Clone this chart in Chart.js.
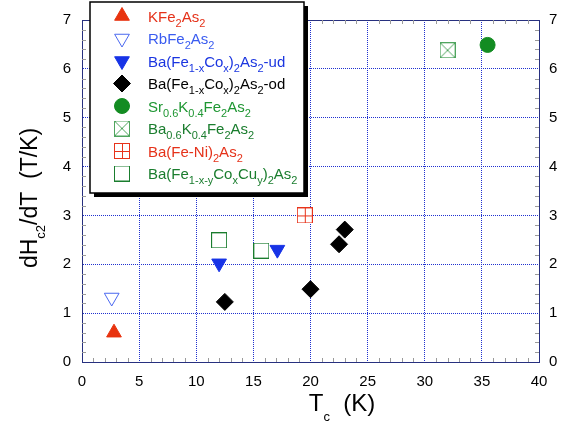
<!DOCTYPE html>
<html><head><meta charset="utf-8">
<script src="https://cdn.jsdelivr.net/npm/chart.js@4/dist/chart.umd.min.js"></script>
<style>html,body{margin:0;padding:0;background:#fff}canvas{display:block}</style>
</head><body>
<canvas id="c" width="572" height="426"></canvas>
<script>
// ---- data ----
const xTickValues = [0, 5, 10, 15, 20, 25, 30, 35, 40];
const yTickValues = [0, 1, 2, 3, 4, 5, 6, 7];

const kfeTc = [2.8];                     const kfeSlope = [0.60];
const rbfeTc = [2.6];                    const rbfeSlope = [1.32];
const coUdTc = [12.0, 17.1];             const coUdSlope = [2.02, 2.30];
const coOdTc = [12.5, 20.0, 22.5, 23.0]; const coOdSlope = [1.23, 1.49, 2.41, 2.71];
const srkTc = [35.5];                    const srkSlope = [6.49];
const bakTc = [32.0];                    const bakSlope = [6.38];
const niTc = [19.5];                     const niSlope = [3.00];
const cuTc = [12.0, 15.7];               const cuSlope = [2.49, 2.28];

// legend labels: [text, isSubscript]
const legendLabels = [
  [['KFe',0],['2',1],['As',0],['2',1]],
  [['RbFe',0],['2',1],['As',0],['2',1]],
  [['Ba(Fe',0],['1-x',1],['Co',0],['x',1],[')',0],['2',1],['As',0],['2',1],['-ud',0]],
  [['Ba(Fe',0],['1-x',1],['Co',0],['x',1],[')',0],['2',1],['As',0],['2',1],['-od',0]],
  [['Sr',0],['0.6',1],['K',0],['0.4',1],['Fe',0],['2',1],['As',0],['2',1]],
  [['Ba',0],['0.6',1],['K',0],['0.4',1],['Fe',0],['2',1],['As',0],['2',1]],
  [['Ba(Fe-Ni)',0],['2',1],['As',0],['2',1]],
  [['Ba(Fe',0],['1-x-y',1],['Co',0],['x',1],['Cu',0],['y',1],[')',0],['2',1],['As',0],['2',1]]
];
const legendColors = ['#e5321a','#3a5cf0','#1a35e0','#000000','#1e9632','#1a7d2e','#e5321a','#1a7d2e'];
const yTitle = [['dH',0],['c2',1],['/dT  (T/K)',0]];
const xTitle = [['T',0],['c',1],['  (K)',0]];

// ---- styles ----
const FONT = '"Liberation Sans", Arial, Helvetica, sans-serif';
const RED = '#e8330f', BLUE = '#1733e6', LBLUE = '#4a68f0', GREEN = '#138c22';

function boxMarker(size, stroke, kind) {
  const c = document.createElement('canvas');
  c.width = c.height = size;
  const g = c.getContext('2d');
  g.fillStyle = '#fff'; g.fillRect(0, 0, size, size);
  g.strokeStyle = stroke; g.lineWidth = 1;
  g.strokeRect(0.5, 0.5, size - 1, size - 1);
  g.beginPath();
  if (kind === 'x') { g.moveTo(1, 1); g.lineTo(size - 1, size - 1); g.moveTo(size - 1, 1); g.lineTo(1, size - 1); }
  if (kind === '+') { const m = Math.floor(size / 2) + 0.5; g.moveTo(m, 0); g.lineTo(m, size); g.moveTo(0, m); g.lineTo(size, m); }
  g.stroke();
  return c;
}
const crossBox = boxMarker(16, '#4fa55e', 'x');
const plusBox = boxMarker(16, '#e8331a', '+');
const openBox = boxMarker(16, '#1a7d2e', '');

function pts(xs, ys) { return xs.map((x, i) => ({x: x, y: ys[i]})); }

const datasets = [
  {data: pts(kfeTc, kfeSlope), pointStyle: 'triangle', pointRadius: 8.5, pointRotation: 0, backgroundColor: RED, borderColor: RED, borderWidth: 1},
  {data: pts(rbfeTc, rbfeSlope), pointStyle: 'triangle', pointRadius: 8.5, pointRotation: 180, backgroundColor: '#fff', borderColor: LBLUE, borderWidth: 1},
  {data: pts(coUdTc, coUdSlope), pointStyle: 'triangle', pointRadius: 8.5, pointRotation: 180, backgroundColor: BLUE, borderColor: BLUE, borderWidth: 1},
  {data: pts(coOdTc, coOdSlope), pointStyle: 'rectRot', pointRadius: 8.5, pointRotation: 0, backgroundColor: '#000', borderColor: '#000', borderWidth: 1},
  {data: pts(srkTc, srkSlope), pointStyle: 'circle', pointRadius: 7.5, pointRotation: 0, backgroundColor: GREEN, borderColor: GREEN, borderWidth: 1},
  {data: pts(bakTc, bakSlope), pointStyle: crossBox, pointRadius: 8, pointRotation: 0, backgroundColor: '#fff', borderColor: '#4fa55e', borderWidth: 1},
  {data: pts(niTc, niSlope), pointStyle: plusBox, pointRadius: 8, pointRotation: 0, backgroundColor: '#fff', borderColor: RED, borderWidth: 1},
  {data: pts(cuTc, cuSlope), pointStyle: openBox, pointRadius: 8, pointRotation: 0, backgroundColor: '#fff', borderColor: '#1a7d2e', borderWidth: 1}
];

function drawRich(ctx, segs, x, y, size, subSize, subDy, color) {
  let cx = x;
  ctx.fillStyle = color;
  ctx.textBaseline = 'alphabetic';
  ctx.textAlign = 'left';
  segs.forEach(([t, sub]) => {
    ctx.font = (sub ? subSize : size) + 'px ' + FONT;
    ctx.fillText(t, cx, y + (sub ? subDy : 0));
    cx += ctx.measureText(t).width;
  });
  return cx - x;
}
function richWidth(ctx, segs, size, subSize) {
  let w = 0;
  segs.forEach(([t, sub]) => { ctx.font = (sub ? subSize : size) + 'px ' + FONT; w += ctx.measureText(t).width; });
  return w;
}

const deco = {
  id: 'deco',
  beforeDatasetsDraw(chart) {
    const ctx = chart.ctx, a = chart.chartArea, xs = chart.scales.x, ys = chart.scales.y;
    ctx.save();
    ctx.strokeStyle = '#9a9a9a'; ctx.lineWidth = 1;
    ctx.beginPath();
    for (let v = 1; v < 40; v++) {
      if (v % 5 === 0) continue;
      const px = Math.round(xs.getPixelForValue(v)) + 0.5;
      ctx.moveTo(px, a.bottom); ctx.lineTo(px, a.bottom - 4);
      ctx.moveTo(px, a.top); ctx.lineTo(px, a.top + 4);
    }
    for (let k = 1; k < 35; k++) {
      if (k % 5 === 0) continue;
      const py = Math.round(ys.getPixelForValue(k * 0.2)) + 0.5;
      ctx.moveTo(a.left, py); ctx.lineTo(a.left + 4, py);
      ctx.moveTo(a.right, py); ctx.lineTo(a.right - 4, py);
    }
    ctx.stroke();
    ctx.restore();
  },
  afterDraw(chart) {
    const ctx = chart.ctx;
    ctx.save();
    // axis titles
    const xw = richWidth(ctx, xTitle, 24, 13);
    drawRich(ctx, xTitle, 342 - xw / 2, 411, 24, 13, 10, '#000');
    ctx.save();
    const yw = richWidth(ctx, yTitle, 23, 13);
    ctx.translate(37, 198 + yw / 2);
    ctx.rotate(-Math.PI / 2);
    drawRich(ctx, yTitle, 0, 0, 23, 13, 8, '#000');
    ctx.restore();
    // legend box with shadow
    const L = 90, T = 2, R = 304, B = 193;
    ctx.fillStyle = '#000';
    ctx.fillRect(L + 4, T + 4, R - L, B - T);
    ctx.fillStyle = '#fff';
    ctx.fillRect(L, T, R - L, B - T);
    ctx.strokeStyle = '#000'; ctx.lineWidth = 1.5;
    ctx.strokeRect(L, T, R - L, B - T);
    legendLabels.forEach((segs, i) => {
      const cy = 16 + i * 22.5;
      const ds = datasets[i];
      ctx.save();
      ctx.fillStyle = ds.backgroundColor; ctx.strokeStyle = ds.borderColor; ctx.lineWidth = ds.borderWidth;
      Chart.helpers.drawPoint(ctx, {pointStyle: ds.pointStyle, rotation: ds.pointRotation, radius: ds.pointRadius, borderWidth: ds.borderWidth}, 122, cy);
      ctx.restore();
      drawRich(ctx, segs, 148, cy + 5.5, 15, 11, 5, legendColors[i]);
    });
    ctx.restore();
  }
};

const GRID = '#1f30d0';
const BORDER = '#27307f';
new Chart(document.getElementById('c'), {
  type: 'scatter',
  data: {datasets: datasets},
  options: {
    responsive: false, animation: false, devicePixelRatio: 1,
    layout: {padding: 0},
    plugins: {legend: {display: false}, tooltip: {enabled: false}},
    scales: {
      x: {
        type: 'linear', position: 'bottom', min: 0, max: 40,
        afterBuildTicks(s) { s.ticks = xTickValues.map(v => ({value: v})); },
        afterFit(s) { s.height = 64; },
        ticks: {color: '#000', font: {size: 15, family: FONT}, padding: 11, maxRotation: 0, autoSkip: false},
        grid: {color: GRID, lineWidth: 1, drawTicks: false},
        border: {display: true, color: BORDER, width: 1, dash: [1, 1]}
      },
      x2: {
        type: 'linear', position: 'top', min: 0, max: 40,
        afterFit(s) { s.height = 15; },
        ticks: {display: false},
        grid: {drawOnChartArea: false, drawTicks: false},
        border: {display: true, color: BORDER, width: 1}
      },
      y: {
        type: 'linear', position: 'left', min: 0, max: 7,
        afterBuildTicks(s) { s.ticks = yTickValues.map(v => ({value: v})); },
        afterFit(s) { s.width = 82; },
        ticks: {color: '#000', font: {size: 15, family: FONT}, padding: 11},
        grid: {color: GRID, lineWidth: 1, drawTicks: false},
        border: {display: true, color: BORDER, width: 1, dash: [1, 1]}
      },
      y2: {
        type: 'linear', position: 'right', min: 0, max: 7,
        afterBuildTicks(s) { s.ticks = yTickValues.map(v => ({value: v})); },
        afterFit(s) { s.width = 33; },
        ticks: {color: '#000', font: {size: 15, family: FONT}, padding: 10},
        grid: {drawOnChartArea: false, drawTicks: false},
        border: {display: true, color: BORDER, width: 1}
      }
    }
  },
  plugins: [deco]
});
</script>
</body></html>
